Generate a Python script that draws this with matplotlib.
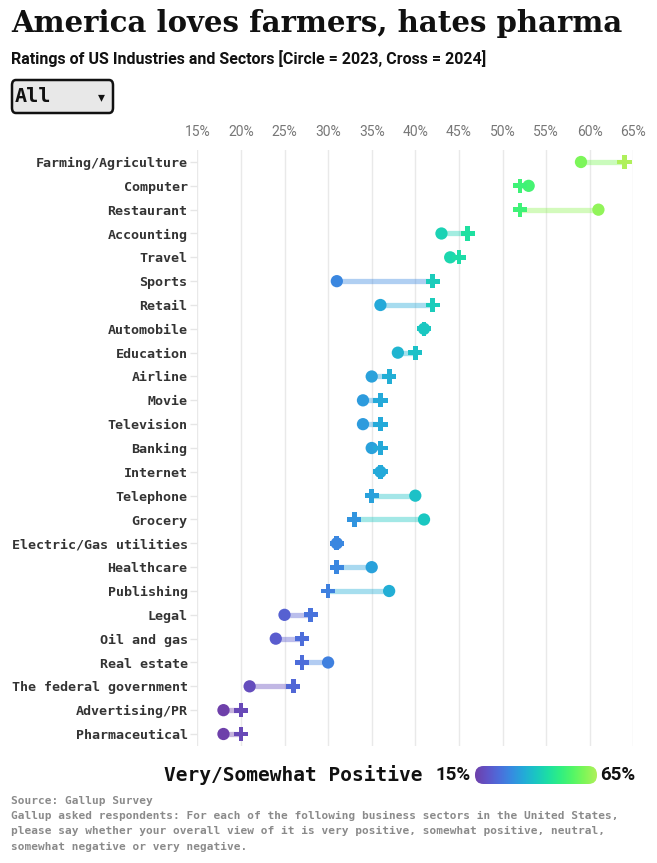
import matplotlib
matplotlib.use("Agg")
import matplotlib.pyplot as plt
import numpy as np
from matplotlib import font_manager
from matplotlib.colors import LinearSegmentedColormap, Normalize
from matplotlib.patches import FancyBboxPatch

# data (% very/somewhat positive)
sectors = ["Farming/Agriculture", "Computer", "Restaurant", "Accounting", "Travel",
           "Sports", "Retail", "Automobile", "Education", "Airline", "Movie",
           "Television", "Banking", "Internet", "Telephone", "Grocery",
           "Electric/Gas utilities", "Healthcare", "Publishing", "Legal",
           "Oil and gas", "Real estate", "The federal government",
           "Advertising/PR", "Pharmaceutical"]
rating_2023 = [59, 53, 61, 43, 44, 31, 36, 41, 38, 35, 34, 34, 35, 36, 40, 41,
               31, 35, 37, 25, 24, 30, 21, 18, 18]
rating_2024 = [64, 52, 52, 46, 45, 42, 42, 41, 40, 37, 36, 36, 36, 36, 35, 33,
               31, 31, 30, 28, 27, 27, 26, 20, 20]
x_ticks = [15, 20, 25, 30, 35, 40, 45, 50, 55, 60, 65]

# d3 "cool" colour ramp, spread over the data extent
cool_colors = ["#6e40aa", "#6054c8", "#4c6edb", "#368ce1", "#23abd8", "#1ac7c2",
               "#1ddfa3", "#30ef82", "#52f667", "#7ff658", "#aff05b"]
cmap = LinearSegmentedColormap.from_list("cool_d3", cool_colors)
all_vals = rating_2023 + rating_2024
norm = Normalize(min(all_vals), max(all_vals))

installed = {f.name for f in font_manager.fontManager.ttflist}
narrow = "Liberation Sans Narrow" if "Liberation Sans Narrow" in installed else "Roboto"
mono = "DejaVu Sans Mono"

W, H = 657, 863
fig = plt.figure(figsize=(W / 100, H / 100), dpi=100)
fig.patch.set_facecolor("white")

def fx(px):
    return px / W

def fy(py):
    return 1 - py / H

# main axes
n = len(sectors)
row_top, row_bot = 162, 734
step = (row_bot - row_top) / (n - 1)
left, right = 197.3, 633.3
ax = fig.add_axes([fx(left), fy(row_bot + step / 2), (right - left) / W,
                   (row_bot - row_top + step) / H])
ax.set_xlim(15, 65)
ax.set_ylim(n - 0.5, -0.5)

y = np.arange(n)
for i in range(n):
    ax.plot([rating_2023[i], rating_2024[i]], [y[i], y[i]], color=cmap(norm(rating_2023[i])),
            alpha=0.4, lw=3.8, solid_capstyle="butt", zorder=2, clip_on=False)
ax.scatter(rating_2023, y, s=78, c=rating_2023, cmap=cmap, norm=norm, marker="o",
           linewidths=0, zorder=3, clip_on=False)
ax.scatter(rating_2024, y, s=105, c=rating_2024, cmap=cmap, norm=norm, marker="P",
           linewidths=0, zorder=4, clip_on=False)

ax.set_xticks(x_ticks)
ax.set_xticklabels([f"{t}%" for t in x_ticks])
ax.xaxis.tick_top()
ax.tick_params(axis="x", length=0, pad=8, labelsize=10, labelcolor="#777777")
for lab in ax.get_xticklabels():
    lab.set_fontfamily(narrow)
ax.set_yticks(y)
ax.set_yticklabels(sectors, fontfamily=mono, fontweight="bold", fontsize=9.6, color="#333333")
ax.tick_params(axis="y", length=5, width=1, color="#e6e6e6", pad=2)
ax.grid(axis="x", color="#e9e9e9", lw=1)
ax.set_axisbelow(True)
for s in ax.spines.values():
    s.set_visible(False)

# title / subtitle
fig.text(fx(11), fy(24), "America loves farmers, hates pharma", fontfamily="DejaVu Serif",
         fontweight="bold", fontsize=21, va="center", ha="left", color="#111111")
fig.text(fx(11), fy(59), "Ratings of US Industries and Sectors [Circle = 2023, Cross = 2024]",
         fontfamily=narrow, fontweight="bold", fontsize=11.5, va="center", ha="left", color="#111111")

# dropdown box
box = FancyBboxPatch((fx(12), fy(113)), fx(101), (113 - 80) / H,
                     boxstyle="round,pad=0,rounding_size=0.006", transform=fig.transFigure,
                     facecolor="#e8e8e8", edgecolor="#111111", lw=1.8)
fig.patches.append(box)
fig.text(fx(15), fy(97), "All", fontfamily=mono, fontweight="bold", fontsize=14.5,
         va="center", ha="left", color="#111111")
fig.text(fx(101), fy(97), "\u25be", fontfamily="DejaVu Sans", fontsize=10,
         va="center", ha="center", color="#111111")

# colour legend
fig.text(fx(423), fy(775), "Very/Somewhat Positive", fontfamily=mono, fontweight="bold",
         fontsize=14, va="center", ha="right", color="#111111")
fig.text(fx(471), fy(775), "15%", fontfamily=narrow, fontweight="bold", fontsize=13.5,
         va="center", ha="right", color="#111111")
fig.text(fx(600), fy(775), "65%", fontfamily=narrow, fontweight="bold", fontsize=13.5,
         va="center", ha="left", color="#111111")
cax = fig.add_axes([fx(475), fy(784), fx(122), (784 - 766) / H])
cax.set_xlim(0, 1)
cax.set_ylim(0, 1)
cax.axis("off")
img = cax.imshow(np.linspace(0, 1, 256)[None, :], cmap=cmap, aspect="auto",
                 extent=[0, 1, 0, 1])
clip = FancyBboxPatch((0, 0), 1, 1, boxstyle="round,pad=0,rounding_size=0.07",
                      mutation_aspect=1 / 0.147 * 0.15 * 6.8, transform=cax.transAxes,
                      facecolor="none", edgecolor="none")
cax.add_patch(clip)
img.set_clip_path(clip)

# footer
notes = ["Source: Gallup Survey",
         "Gallup asked respondents: For each of the following business sectors in the United States,",
         "please say whether your overall view of it is very positive, somewhat positive, neutral,",
         "somewhat negative or very negative."]
for k, line in enumerate(notes):
    fig.text(fx(11), fy(801 + k * 15.2), line, fontfamily=mono, fontweight="bold", fontsize=8.0,
             va="center", ha="left", color="#8a8a8a")

fig.savefig("out.png", dpi=100)
